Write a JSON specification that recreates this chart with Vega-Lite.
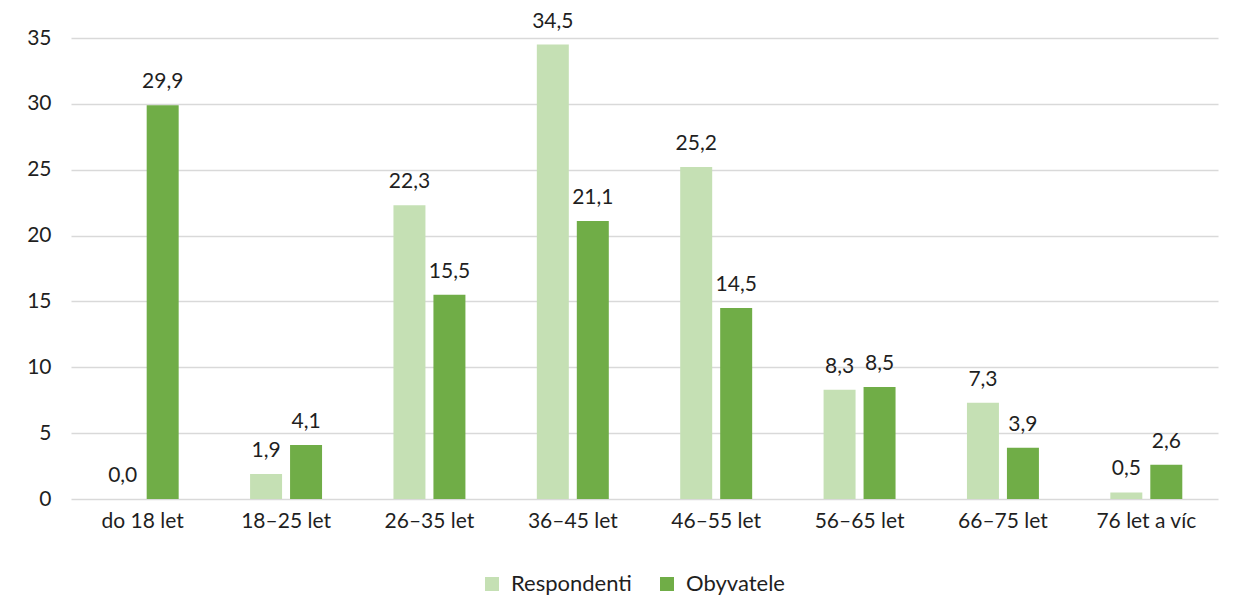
{
  "$schema": "https://vega.github.io/schema/vega-lite/v6.json",
  "width": 1147,
  "height": 461,
  "autosize": "none",
  "padding": {"left": 71, "top": 38, "right": 16, "bottom": 113},
  "background": "white",
  "config": {
    "locale": {"number": {"decimal": ",", "thousands": " ", "grouping": [3], "currency": ["", " Kč"]}},
    "view": {"stroke": null},
    "font": "Lato",
    "text": {"font": "Lato"}
  },
  "data": {
    "values": [
      {"age": "do 18 let", "series": "Respondenti", "value": 0.0},
      {"age": "do 18 let", "series": "Obyvatele", "value": 29.9},
      {"age": "18–25 let", "series": "Respondenti", "value": 1.9},
      {"age": "18–25 let", "series": "Obyvatele", "value": 4.1},
      {"age": "26–35 let", "series": "Respondenti", "value": 22.3},
      {"age": "26–35 let", "series": "Obyvatele", "value": 15.5},
      {"age": "36–45 let", "series": "Respondenti", "value": 34.5},
      {"age": "36–45 let", "series": "Obyvatele", "value": 21.1},
      {"age": "46–55 let", "series": "Respondenti", "value": 25.2},
      {"age": "46–55 let", "series": "Obyvatele", "value": 14.5},
      {"age": "56–65 let", "series": "Respondenti", "value": 8.3},
      {"age": "56–65 let", "series": "Obyvatele", "value": 8.5},
      {"age": "66–75 let", "series": "Respondenti", "value": 7.3},
      {"age": "66–75 let", "series": "Obyvatele", "value": 3.9},
      {"age": "76 let a víc", "series": "Respondenti", "value": 0.5},
      {"age": "76 let a víc", "series": "Obyvatele", "value": 2.6}
    ]
  },
  "encoding": {
    "x": {
      "field": "age", "type": "nominal", "sort": null,
      "scale": {"paddingInner": 0.498, "paddingOuter": 0.249},
      "axis": {"title": null, "labelAngle": 0, "labelFontSize": 21, "labelColor": "#1f1f1f", "labelPadding": 11, "ticks": false, "domain": false, "labelFont": "Lato"}
    },
    "xOffset": {
      "field": "series", "type": "nominal", "sort": ["Respondenti", "Obyvatele"],
      "scale": {"paddingInner": 0.2, "paddingOuter": 0}
    },
    "y": {
      "field": "value", "type": "quantitative",
      "scale": {"domain": [0, 35], "nice": false},
      "axis": {"title": null, "values": [0, 5, 10, 15, 20, 25, 30, 35], "labelFontSize": 21, "labelColor": "#1f1f1f", "labelPadding": 20, "ticks": false, "domain": false, "gridColor": "#D9D9D9", "gridWidth": 1.3, "labelFont": "Lato"}
    }
  },
  "layer": [
    {
      "mark": {"type": "bar"},
      "encoding": {
        "color": {
          "field": "series", "type": "nominal", "sort": ["Respondenti", "Obyvatele"],
          "scale": {"domain": ["Respondenti", "Obyvatele"], "range": ["#C5E0B4", "#70AD47"]},
          "legend": {
            "title": null, "orient": "none", "direction": "horizontal",
            "legendX": 410, "legendY": 535,
            "symbolType": "square", "symbolSize": 196, "symbolStrokeWidth": 0,
            "labelFontSize": 22, "labelColor": "#1f1f1f", "labelFont": "Lato",
            "labelOffset": 8, "columnPadding": 24
          }
        }
      }
    },
    {
      "mark": {"type": "text", "baseline": "alphabetic", "dy": -17, "fontSize": 21, "color": "#1f1f1f"},
      "encoding": {
        "text": {"field": "value", "type": "quantitative", "format": ".1f"}
      }
    }
  ]
}
